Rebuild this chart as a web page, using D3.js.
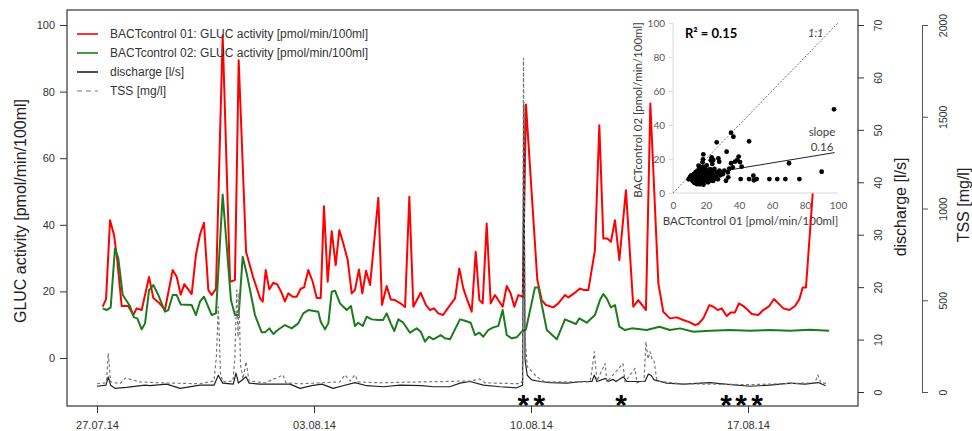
<!DOCTYPE html>
<html>
<head>
<meta charset="utf-8">
<script src="https://cdn.jsdelivr.net/npm/d3@7"></script>
<style>
  body { margin: 0; background: #fff; }
</style>
</head>
<body>
<div class="canvas"></div>
<script>
// times are hours after 27.07.14 00:00
const redHours = [4.4,7.0,10.1,13.2,15.7,19.1,24.2,28.1,30.7,34.6,40.3,43.6,48.2,52.6,58.6,61.7,64.8,67.6,73.3,76.6,79.7,82.8,86.2,88.8,92.1,97.3,103,106.8,109.7,115.4,120.8,126.2,128.3,130.6,133.4,136.5,139.6,143,145.5,148.1,151.5,154.6,157.7,160.3,163.6,167,170.1,173.2,175.7,178.6,181.7,184.8,187.6,190.7,194.1,197.2,199.7,202.8,205.4,208.3,211.4,217.8,220.6,224.3,227.4,230.7,234.6,238.5,241.8,244.9,250.6,254.7,257.8,260.9,264.2,267.9,271.5,277.2,280.5,283.6,286.7,290.1,293.2,296,298.6,301.7,304.8,308.1,314.1,317.2,320.3,323.1,326.2,329.6,332.1,340.9,344.3,347.6,353.3,357.1,362.3,364.9,369.3,373.9,377,380.4,385.5,388.9,392,395.1,397.9,401,404.4,409.5,415.2,419.1,425,428.4,434.6,438.4,443.6,448.8,453.9,459.1,463,465.5,469.4,474.1,477.2,480.6,483.6,487.5,490.8,493.9,497,500.4,503.8,506.9,512,515.8,520.5,524.1,527.5,531.3,536,540.4,543.7,546.4,548.9,554.1];
const redValues = [15.4,17.7,41.4,36.9,29.4,15.6,15.6,12.9,14.9,14.4,24.3,18,16.5,14.5,26.4,24.4,19,22.2,19.2,31,37,40.6,20.4,18.9,20.8,96.9,22.9,23.4,89.4,31.9,24.4,18,16.9,26.4,20.6,22.6,22.1,19.5,17,19.4,18.4,18.4,20.8,21.2,26.4,22.9,18,18,45.6,22.9,38.1,27.9,38.4,34.4,29.4,19.4,20.4,26.6,19.4,26.2,21.9,48.1,15.9,21.6,17.6,17.4,16.5,15.3,48.4,15.4,19.6,15.9,14.4,14.9,13.4,12.9,14.9,17.9,26.9,20.9,17.4,13.9,31.9,17.4,16.4,40.4,16.4,18.9,15.4,21.6,19.4,15.4,18.9,18.4,76.1,23.4,17.4,15.9,15.2,16.4,18.9,18.2,19.4,20.9,20.4,20.4,32.4,69.9,35.9,35.9,34.9,41.4,29.4,50.4,15.4,17.4,14.4,76.4,22.4,13.9,11.9,12.2,11.4,10.7,9.9,10.2,11.9,15.9,15.4,14.4,14.9,12.6,13.7,13.7,16.4,15.6,14.4,13.2,12.9,14.4,15.6,17.7,16.4,14.9,14.4,15.6,17.6,21.2,21.2,49.4];

const greenHours = [4.4,7.5,10.6,13.9,16.5,19.9,25.5,28.6,31.2,34.6,37.2,40.3,43.6,47.5,52.6,55.2,58.6,61.7,64.8,73.3,76.6,79.7,82.8,88.8,92.1,97.3,103.7,106.8,109.7,112.8,115.9,122.3,127.5,130.1,133.4,136.5,139.9,145.5,150.7,155.8,159.7,163.6,171.3,173.2,176.5,179.1,181.7,184.3,188.1,193.3,196.6,199.7,202.3,205.7,208.8,212.7,217.8,221.4,224.3,227.4,230.2,233.3,237.1,242.3,247.5,250.6,253.9,257,260.4,266.1,269.4,273.3,281,284.9,289.3,292.6,296,299.1,302.9,306.8,310.7,314.1,317.2,321.1,324.9,328.8,332.1,339.1,341.7,348.2,356,362.3,370.8,373.4,379.1,385.5,389.4,392,394.6,397.9,401,404.4,408.8,414,425.6,435.4,443.6,451.4,461.7,474.6,490.1,505.5,521,536.5,552,566.7];
const greenValues = [14.9,14.4,15.2,32.9,29.9,18.9,15.6,12.2,11.9,8.6,10.4,20.4,21.9,18.9,13.9,14.4,18.9,18.9,16.1,15.9,12.9,16.9,18.4,12.9,13.4,49.1,17.4,12.9,12.9,30.4,25.4,12.9,7.7,7.7,8.9,7.2,8.4,9.9,8.9,10.4,13.4,14.4,13.9,10.9,8.6,10.4,19.9,20.2,16.4,14.4,15.6,9.6,10.6,9.6,12.4,11.6,11.4,11.4,13.4,10.4,8.1,11.6,10.6,7.6,8.9,7.9,4.9,6.4,5.6,6.9,5.9,5.6,11.6,11.2,10.6,6.9,7.6,6.4,8.4,9.2,9.6,14.4,6.9,5.9,6.2,7.9,8.6,21.2,21.2,8.4,5.6,11.6,10.2,11.9,10.6,12.9,17.4,19.2,17.9,15.2,15.9,9.4,8.4,8.9,8.4,9.4,8.4,8.9,7.9,8.2,8.4,8.2,8.4,8.2,8.5,8.2];

const dischargeHours = [0,7,8.7,10.5,13.9,23,37.2,41,54,64.3,79.7,90.6,93.9,97.3,105.5,107.6,109.5,115.4,117.7,126.2,139.1,149.4,157.2,166.2,174,182.9,190.4,199.7,208.8,221.7,234.6,251.4,260.4,273.3,281,288.8,299.1,312,324.9,329.5,330.4,331.4,333.1,336.5,343,350.7,363.6,376.5,383.2,385,387.1,393.8,395.6,399.7,401.8,407.5,410.3,424.2,426.8,428.9,431.3,441.1,454,474.6,486.2,505.5,521,536.5,548.1,558.4,564.1];
const dischargeValues = [1.1,1.3,2.9,1.3,0.7,0.9,1.3,1.2,1.5,0.7,1.3,1.3,3.2,1.7,1.5,3.6,1.7,2.9,1.7,1.5,1.5,1.5,0.7,1.2,1.5,0.7,1.2,1.8,1.2,1.0,1.3,1.2,1.0,1.0,1.7,2.0,1.3,1.0,0.8,1.3,54.8,6.1,3.2,2.3,2.0,1.8,1.7,2.0,2.0,3.2,2.0,2.6,2.0,2.4,2.0,2.9,2.0,2.0,3.4,3.2,2.3,1.7,1.5,1.8,1.5,1.1,1.3,1.7,1.5,1.8,1.2];

const tssHours = [0,6.2,7.4,8.7,10.5,17.8,22,33.3,48.8,79.7,90.6,92.5,93.9,95.6,97.5,105.3,106.8,108.2,109.2,109.9,111.1,113,115.4,117.7,130.1,144,146.3,157.2,188.1,192,195.9,199.7,202.1,219.1,250.1,288.8,296.5,300.4,327.5,329.4,330.2,331.4,333.1,340.4,346.8,381.7,383.2,385,387.1,393.3,394.8,407.2,408.8,416.5,418,423.5,425,426.6,428.1,429.7,431.2,433.5,451.4,505.5,555.8,558.1,560.4,566.6];
const tssValues = [45,50,60,212,55,45,76,55,50,45,60,200,465,100,55,60,200,556,300,540,150,70,165,60,50,93,50,45,55,93,60,93,55,50,55,60,70,50,45,60,1820,300,138,83,55,55,120,220,60,156,55,155,55,129,50,60,274,180,220,180,174,60,45,40,50,93,50,45];

const starHours = [330, 342.4, 405.7, 487, 498.6, 511];

const glucTicks = [0, 20, 40, 60, 80, 100];
const dischargeTicks = [0, 10, 20, 30, 40, 50, 60, 70];
const tssTicks = [0, 500, 1000, 1500, 2000];
const dateTicks = ["2014-07-27", "2014-08-03", "2014-08-10", "2014-08-17"];

const legendLabels = [
  "BACTcontrol 01: GLUC activity [pmol/min/100ml]",
  "BACTcontrol 02: GLUC activity [pmol/min/100ml]",
  "discharge [l/s]",
  "TSS [mg/l]"
];

// inset: BACTcontrol 01 vs 02
const scatter01 = [97.6,35.2,36.6,26.5,46.1,32.5,70.3,90.1,41,46.1,48.7,50.7,49,58.4,63.2,68.1,76.6,39.8,39,40.6,41.6,37.6,35.2,18.4,23.4,24.4,27.5,28,
  9.5,10.2,11.4,11,12.3,12.1,12.6,13.2,13.5,13.8,13.1,14.3,14.6,14.2,14.9,14.5,15.4,15.1,15.7,15.3,15.9,15.5,16.2,16.6,16.1,16.8,16.4,16.9,17.3,17.7,17.1,17.5,17.9,18.4,18.1,18.7,18.3,18.9,18.5,18.2,19.3,19.6,19.1,19.8,19.4,20.2,20.6,20.1,20.8,20.4,21.3,21.7,21.1,21.5,22.3,22.7,22.1,22.5,22.9,23.2,23.6,23.1,23.8,24.3,24.7,24.1,24.5,25.2,25.6,25.1,26.3,26.8,27.2,27.6,28.1,28.6,29.4,30.2,31.1,32.1,33.2,34.1,36.2,33.5];
const scatter02 = [49.2,35.5,33.1,29.8,30.4,24.3,17.5,12.5,8.2,8.2,10.2,8.2,7.5,8.2,8.2,8.2,8.2,21.4,19.4,18.2,15.5,18.4,17.5,22.7,21,19.4,20.4,18.4,
  8.1,9.3,7.8,10.4,9.1,6.8,11.2,8.4,10.1,12.3,5.9,7.2,9.4,11.3,13.1,5.2,6.3,8.2,10.3,12.4,14.2,16.1,5.1,7.3,9.2,11.4,13.3,15.2,6.1,8.3,10.2,12.2,18.1,4.9,7.1,9.3,11.1,13.4,15.3,19.8,6.2,8.1,10.4,12.1,14.3,7.4,9.1,11.3,13.2,16.2,6.3,8.4,10.1,12.3,7.2,9.4,11.2,14.1,19.2,8.3,10.2,12.4,17.1,7.1,9.3,11.1,13.3,8.2,10.3,14.2,9.1,12.3,8.1,11.2,13.1,10.4,12.2,11.1,13.2,7.2,12.1,14.3,15.1,9.2];
const insetTicks = [0, 20, 40, 60, 80, 100];
const slopeValue = 0.16;
const slopeIntercept = 8.1;
const slopeRange = [30, 98];

const width = 972;
const height = 431;
const box = { left: 67, right: 858, top: 10, bottom: 406 };
const font = "'Liberation Sans', Arial, sans-serif";
const insetFont = "Lato, 'Open Sans', sans-serif";

const svg = d3
  .select(".canvas")
  .append("svg")
  .attr("width", width)
  .attr("height", height)
  .style("display", "block");

const graph = svg.append("g");

const t0 = Date.UTC(2014, 6, 27);
const toDate = (h) => new Date(t0 + h * 3600e3);

// Scales
const xScale = d3
  .scaleUtc()
  .domain([new Date(Date.UTC(2014, 6, 27)), new Date(Date.UTC(2014, 7, 17))])
  .range([97, 748]);
const yGluc = d3.scaleLinear().domain([0, 100]).range([358, 25]);
const yDischarge = d3.scaleLinear().domain([0, 70]).range([392, 25]);
const yTss = d3.scaleLinear().domain([0, 2000]).range([392, 25]);

const insetX = d3.scaleLinear().domain([0, 100]).range([673, 838]);
const insetY = d3.scaleLinear().domain([0, 100]).range([193, 23]);

function rotatedText(txt, px, py, size, color, family) {
  graph
    .append("text")
    .text(txt)
    .attr("transform", "translate(" + px + "," + py + ") rotate(-90)")
    .attr("text-anchor", "middle")
    .attr("font-family", family || font)
    .attr("font-size", size)
    .attr("fill", color);
}

function styleAxis(g, size, color, family) {
  g.selectAll("text")
    .attr("font-family", family || font)
    .attr("font-size", size)
    .attr("fill", color);
  g.selectAll("line").attr("stroke", color);
}

// ---- inset scatter (drawn first, transparent background) ----
graph
  .append("line")
  .attr("x1", insetX(0))
  .attr("y1", insetY(0))
  .attr("x2", insetX(100))
  .attr("y2", insetY(0))
  .attr("stroke", "#d9d9d9");
graph
  .append("line")
  .attr("x1", insetX(0))
  .attr("y1", insetY(0))
  .attr("x2", insetX(0))
  .attr("y2", insetY(100))
  .attr("stroke", "#d9d9d9");

const insetXAxis = graph
  .append("g")
  .attr("transform", "translate(0," + insetY(0) + ")")
  .call(d3.axisBottom(insetX).tickValues(insetTicks).tickSize(0).tickPadding(9));
insetXAxis.select(".domain").remove();
styleAxis(insetXAxis, 10, "#595959", insetFont);

const insetYAxis = graph
  .append("g")
  .attr("transform", "translate(" + insetX(0) + ",0)")
  .call(d3.axisLeft(insetY).tickValues(insetTicks).tickSize(4).tickPadding(4));
insetYAxis.select(".domain").remove();
styleAxis(insetYAxis, 10, "#595959", insetFont);
insetYAxis.selectAll("line").attr("stroke", "#d9d9d9");

graph
  .append("text")
  .text("BACTcontrol 01 [pmol/min/100ml]")
  .attr("x", (insetX(0) + insetX(100)) / 2 - 5)
  .attr("y", 225)
  .attr("text-anchor", "middle")
  .attr("font-family", insetFont)
  .attr("font-size", 11.5)
  .attr("fill", "#404040");
rotatedText("BACTcontrol 02 [pmol/min/100ml]", 642, 110, 11.5, "#404040", insetFont);

// 1:1 line
graph
  .append("line")
  .attr("x1", insetX(0))
  .attr("y1", insetY(0))
  .attr("x2", insetX(100))
  .attr("y2", insetY(100))
  .attr("stroke", "#555")
  .attr("stroke-width", 0.8)
  .attr("stroke-dasharray", "2,1.5");

// regression line
graph
  .append("line")
  .attr("x1", insetX(slopeRange[0]))
  .attr("y1", insetY(slopeIntercept + slopeValue * slopeRange[0]))
  .attr("x2", insetX(slopeRange[1]))
  .attr("y2", insetY(slopeIntercept + slopeValue * slopeRange[1]))
  .attr("stroke", "#222")
  .attr("stroke-width", 1);

graph
  .selectAll("circle.pt")
  .data(scatter01)
  .enter()
  .append("circle")
  .attr("class", "pt")
  .attr("cx", (d) => insetX(d))
  .attr("cy", (d, i) => insetY(scatter02[i]))
  .attr("r", 2.4)
  .attr("fill", "black");

graph
  .append("text")
  .text("R² = 0.15")
  .attr("x", 685)
  .attr("y", 38)
  .attr("font-family", insetFont)
  .attr("font-weight", "bold")
  .attr("font-size", 13)
  .attr("fill", "black");
graph
  .append("text")
  .text("1:1")
  .attr("x", 808)
  .attr("y", 37)
  .attr("font-family", insetFont)
  .attr("font-style", "italic")
  .attr("font-size", 11)
  .attr("fill", "#404040");
graph
  .append("text")
  .text("slope")
  .attr("x", 822)
  .attr("y", 136)
  .attr("text-anchor", "middle")
  .attr("font-family", insetFont)
  .attr("font-size", 11.5)
  .attr("fill", "#404040");
graph
  .append("text")
  .text(slopeValue.toFixed(2))
  .attr("x", 822)
  .attr("y", 151)
  .attr("text-anchor", "middle")
  .attr("font-family", insetFont)
  .attr("font-size", 11.5)
  .attr("fill", "#404040");

// ---- time series ----
function drawSeries(hours, values, yScale, color, strokeWidth, dash) {
  const pts = hours.map((h, i) => [h, values[i]]);
  const line = d3
    .line()
    .x((d) => xScale(toDate(d[0])))
    .y((d) => yScale(d[1]));
  graph
    .append("path")
    .datum(pts)
    .attr("d", line)
    .attr("fill", "none")
    .attr("stroke", color)
    .attr("stroke-width", strokeWidth)
    .attr("stroke-linejoin", "round")
    .attr("stroke-dasharray", dash || null);
}

drawSeries(redHours, redValues, yGluc, "#ff0000", 2, null);
drawSeries(greenHours, greenValues, yGluc, "#1e7a1e", 2, null);
drawSeries(dischargeHours, dischargeValues, yDischarge, "#222", 1.2, null);
drawSeries(tssHours, tssValues, yTss, "#777", 1.2, "3,2.5");

// asterisks
graph
  .selectAll("text.star")
  .data(starHours)
  .enter()
  .append("text")
  .attr("class", "star")
  .text("*")
  .attr("x", (d) => xScale(toDate(d)))
  .attr("y", 415)
  .attr("text-anchor", "middle")
  .attr("font-family", font)
  .attr("font-weight", "bold")
  .attr("font-size", 30)
  .attr("fill", "black");

// ---- frame and axes ----
graph
  .append("rect")
  .attr("x", box.left)
  .attr("y", box.top)
  .attr("width", box.right - box.left)
  .attr("height", box.bottom - box.top)
  .attr("fill", "none")
  .attr("stroke", "#333")
  .attr("stroke-width", 1.2);

const leftAxis = graph
  .append("g")
  .attr("transform", "translate(" + box.left + ",0)")
  .call(d3.axisLeft(yGluc).tickValues(glucTicks).tickSize(7).tickPadding(5));
leftAxis.select(".domain").remove();
styleAxis(leftAxis, 11, "#333");

const bottomAxis = graph
  .append("g")
  .attr("transform", "translate(0," + box.bottom + ")")
  .call(
    d3
      .axisBottom(xScale)
      .tickValues(dateTicks.map((d) => new Date(d + "T00:00:00Z")))
      .tickFormat(d3.utcFormat("%d.%m.%y"))
      .tickSize(7)
      .tickPadding(8)
  );
bottomAxis.select(".domain").remove();
styleAxis(bottomAxis, 11, "#333");

const dischargeAxis = graph
  .append("g")
  .attr("transform", "translate(" + box.right + ",0)")
  .call(d3.axisRight(yDischarge).tickValues(dischargeTicks).tickSize(6));
dischargeAxis.select(".domain").remove();
styleAxis(dischargeAxis, 10.5, "#333");
dischargeAxis
  .selectAll("text")
  .attr("x", null)
  .attr("dy", null)
  .attr("text-anchor", "middle")
  .attr("transform", "translate(24,0) rotate(-90)");

const tssAxis = graph
  .append("g")
  .attr("transform", "translate(922,0)")
  .call(
    d3
      .axisRight(yTss)
      .tickValues(tssTicks)
      .tickFormat(d3.format("d"))
      .tickSize(6)
      .tickSizeOuter(0)
  );
tssAxis.select(".domain").attr("stroke", "#555");
styleAxis(tssAxis, 10.5, "#333");
tssAxis.selectAll("line").attr("stroke", "#555");
tssAxis
  .selectAll("text")
  .attr("x", null)
  .attr("dy", null)
  .attr("text-anchor", "middle")
  .attr("transform", "translate(25,0) rotate(-90)");

rotatedText("GLUC activity [pmol/min/100ml]", 26, 211, 16, "#222");
rotatedText("discharge [l/s]", 906, 207, 16, "#222");
rotatedText("TSS [mg/l]", 969, 205, 16, "#222");

// ---- legend ----
const legendColors = ["#ff0000", "#1e7a1e", "#222", "#777"];
const legendDash = [null, null, null, "5,4"];
legendLabels.forEach((label, i) => {
  const ly = 34 + i * 19;
  graph
    .append("line")
    .attr("x1", 77)
    .attr("x2", 98)
    .attr("y1", ly)
    .attr("y2", ly)
    .attr("stroke", legendColors[i])
    .attr("stroke-width", i < 3 ? 1.6 : 1.2)
    .attr("stroke-dasharray", legendDash[i]);
  graph
    .append("text")
    .text(label)
    .attr("x", 110)
    .attr("y", ly + 4.3)
    .attr("font-family", font)
    .attr("font-size", 12)
    .attr("fill", "#333");
});
</script>
</body>
</html>
